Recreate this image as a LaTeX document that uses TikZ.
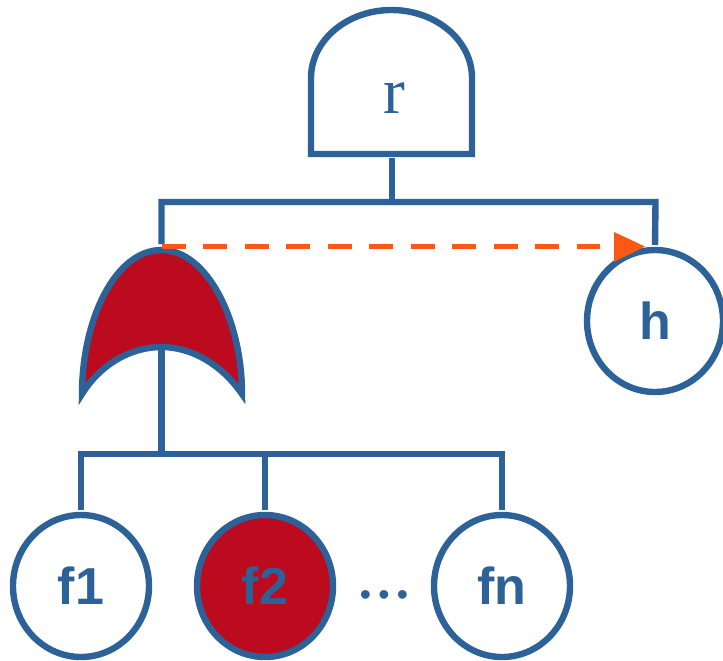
\documentclass[tikz,border=0pt]{standalone}
\usepackage{fontspec}
\setmainfont{Liberation Sans}
\newfontfamily\serifr{Liberation Serif}
\usetikzlibrary{arrows.meta,shapes.geometric}
\definecolor{gblue}{RGB}{45,98,152}
\definecolor{gred}{RGB}{188,10,30}
\definecolor{gorange}{RGB}{250,88,20}
\tikzset{
 x=0.75pt,y=-0.75pt,
 wire/.style={draw=gblue,line width=4.8pt},
 evt/.style={ellipse,draw=gblue,line width=4.8pt,minimum width=102pt,minimum height=106.5pt,inner sep=0pt,outer sep=0pt,text=gblue,font=\fontsize{39}{39}\selectfont\bfseries,text height=28pt,text depth=0pt},
 gatelabel/.style={text=gblue,font=\serifr\fontsize{49}{49}\selectfont},
}
\begin{document}
\begin{tikzpicture}
\useasboundingbox (0,0) rectangle (723,660);
\clip (0,0) rectangle (723,660);
% AND gate
\draw[wire,line join=miter,fill=white] (311,154) -- (311,78) arc[start angle=180,end angle=0,x radius=60.375pt,y radius=51pt] -- (472,154) -- cycle;
\node[gatelabel,anchor=base,inner sep=0pt] (r) at (394.5,113) {r};
\coordinate (rb) at (392,158);
\coordinate (rj) at (392,202);
\coordinate (orTop) at (161.5,250);
\coordinate (orIn) at (161.5,347);
\coordinate (fj) at (161.5,454);
\coordinate (tip) at (645,246.5);
\coordinate (dashStart) at (162,246.5);
\node[evt] (h) at (655,321) {h};
\node[evt] (f1) at (81,586) {f1};
\node[evt,fill=gred] (f2) at (265,586) {f2};
\node[evt] (fn) at (502,586) {fn};
\node[text=gblue,font=\fontsize{24}{24}\selectfont,anchor=base,inner sep=0pt] (dots) at (384,605) {•\kern5.5pt•\kern5.5pt•};
% OR gate
\draw[wire,fill=gred,miter limit=12] (orTop) .. controls (115,250) and (82,320) .. (82,394) .. controls (100,365) and (130,347) .. (orIn) .. controls (192,347) and (222,365) .. (242,394) .. controls (242,320) and (207,250) .. (orTop) -- cycle;
\draw[wire] (rb) -- (rj);
\draw[wire,line join=miter] (161.5,244) -- (161.5,202) -- (rj) -- (655.5,202) -- ([yshift=3.75pt]h.north);
\draw[wire] (orIn) -- (fj);
\draw[wire,line join=miter] ([yshift=3.75pt]f1.north) -- (81,454) -- (502,454) -- ([yshift=3.75pt]fn.north);
\draw[wire] (265,454) -- ([yshift=3.75pt]f2.north);
\draw[draw=gorange,line width=4pt,dash pattern=on 18pt off 13.1pt] (dashStart) -- (600,246.5);
\fill[gorange] (tip) -- (614,232) -- (614,262) -- cycle;
\end{tikzpicture}
\end{document}
